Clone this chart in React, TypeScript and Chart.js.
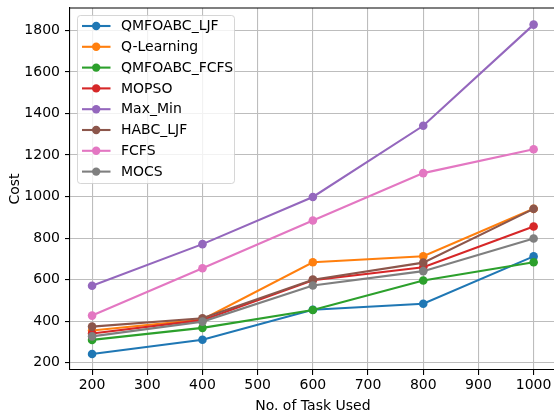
import React, { useEffect, useRef } from "react";
import { Chart, registerables } from "chart.js";

Chart.register(...registerables);

const TASKS = [200, 400, 600, 800, 1000];
const X_TICKS = [200, 300, 400, 500, 600, 700, 800, 900, 1000];
const Y_TICKS = [200, 400, 600, 800, 1000, 1200, 1400, 1600, 1800];

const SERIES_NAMES = ["QMFOABC_LJF", "Q-Learning", "QMFOABC_FCFS", "MOPSO", "Max_Min", "HABC_LJF", "FCFS", "MOCS"];
const SERIES_COLORS = ["#1f77b4", "#ff7f0e", "#2ca02c", "#d62728", "#9467bd", "#8c564b", "#e377c2", "#7f7f7f"];

const qmfoabcLjf = [242, 311, 455, 484, 712];
const qLearning = [355, 408, 684, 713, 941];
const qmfoabcFcfs = [310, 368, 454, 596, 684];
const mopso = [341, 405, 597, 660, 856];
const maxMin = [571, 771, 998, 1341, 1828];
const habcLjf = [374, 414, 600, 682, 941];
const fcfs = [427, 655, 885, 1113, 1228];
const mocs = [327, 398, 572, 641, 798];

const SERIES_VALUES = [qmfoabcLjf, qLearning, qmfoabcFcfs, mopso, maxMin, habcLjf, fcfs, mocs];

const FONT = "'DejaVu Sans', sans-serif";

const frameAndLegend = {
  id: "frameAndLegend",
  afterDatasetsDraw(chart: any) {
    const ctx = chart.ctx;
    const area = chart.chartArea;
    ctx.save();
    ctx.strokeStyle = "#000";
    ctx.lineWidth = 1.1;
    ctx.beginPath();
    ctx.moveTo(area.left, area.top);
    ctx.lineTo(area.right, area.top);
    ctx.moveTo(area.right, area.top);
    ctx.lineTo(area.right, area.bottom);
    ctx.stroke();

    const bx = 77.5, by = 15.5, bw = 157, bh = 168, r = 3;
    ctx.beginPath();
    ctx.moveTo(bx + r, by);
    ctx.lineTo(bx + bw - r, by);
    ctx.arcTo(bx + bw, by, bx + bw, by + r, r);
    ctx.lineTo(bx + bw, by + bh - r);
    ctx.arcTo(bx + bw, by + bh, bx + bw - r, by + bh, r);
    ctx.lineTo(bx + r, by + bh);
    ctx.arcTo(bx, by + bh, bx, by + bh - r, r);
    ctx.lineTo(bx, by + r);
    ctx.arcTo(bx, by, bx + r, by, r);
    ctx.closePath();
    ctx.fillStyle = "rgba(255,255,255,0.8)";
    ctx.fill();
    ctx.strokeStyle = "rgba(204,204,204,0.8)";
    ctx.lineWidth = 1;
    ctx.stroke();

    ctx.font = `14px ${FONT}`;
    ctx.textBaseline = "middle";
    ctx.textAlign = "left";
    chart.data.datasets.forEach((ds: any, i: number) => {
      const y = 26 + i * 20.8;
      ctx.strokeStyle = ds.borderColor;
      ctx.lineWidth = 2.1;
      ctx.beginPath();
      ctx.moveTo(82, y);
      ctx.lineTo(110.5, y);
      ctx.stroke();
      ctx.fillStyle = ds.borderColor;
      ctx.beginPath();
      ctx.arc(96.2, y, 4.2, 0, Math.PI * 2);
      ctx.fill();
      ctx.fillStyle = "#000";
      ctx.fillText(ds.label, 121, y + 0.5);
    });
    ctx.restore();
  },
};

export default function App() {
  const ref = useRef<HTMLCanvasElement | null>(null);
  useEffect(() => {
    if (!ref.current) return;
    const n = SERIES_NAMES.length;
    const chart = new Chart(ref.current, {
      type: "line",
      data: {
        datasets: SERIES_NAMES.map((name, i) => ({
          label: name,
          data: TASKS.map((t, j) => ({ x: t, y: SERIES_VALUES[i][j] })),
          borderColor: SERIES_COLORS[i],
          backgroundColor: SERIES_COLORS[i],
          pointBackgroundColor: SERIES_COLORS[i],
          pointBorderWidth: 0,
          pointRadius: 4.3,
          borderWidth: 2.1,
          tension: 0,
          order: n - i,
          clip: false as any,
        })),
      },
      options: {
        animation: false,
        responsive: false,
        devicePixelRatio: 1,
        layout: { padding: { top: 8, right: 0, left: 0, bottom: 0 } },
        plugins: { legend: { display: false }, tooltip: { enabled: false } },
        scales: {
          x: {
            type: "linear",
            min: 160,
            max: 1040,
            afterBuildTicks: (s: any) => {
              s.ticks = X_TICKS.map((v) => ({ value: v }));
            },
            afterFit: (s: any) => {
              s.height = 46;
              s.paddingLeft = 0;
              s.paddingRight = 0;
            },
            ticks: { color: "#000", font: { family: FONT, size: 14 }, padding: 2, maxRotation: 0, autoSkip: false, callback: (v: any) => String(v) },
            grid: { color: "#bdbdbd", lineWidth: 1.1, tickColor: "#000", tickLength: 5, tickWidth: 1.1 },
            border: { display: true, color: "#000", width: 1.1 },
            title: { display: true, text: "No. of Task Used", color: "#000", font: { family: FONT, size: 14 }, padding: { top: 0, bottom: 1 } },
          },
          y: {
            type: "linear",
            min: 165,
            max: 1908,
            afterBuildTicks: (s: any) => {
              s.ticks = Y_TICKS.map((v) => ({ value: v }));
            },
            afterFit: (s: any) => {
              s.width = 70;
              s.paddingTop = 0;
              s.paddingBottom = 0;
            },
            ticks: { color: "#000", font: { family: FONT, size: 14 }, padding: 5, autoSkip: false, callback: (v: any) => String(v) },
            grid: { color: "#bdbdbd", lineWidth: 1.1, tickColor: "#000", tickLength: 5, tickWidth: 1.1 },
            border: { display: true, color: "#000", width: 1.1 },
            title: { display: true, text: "Cost", color: "#000", font: { family: FONT, size: 14 }, padding: { top: 7, bottom: 0 } },
          },
        },
      },
      plugins: [frameAndLegend],
    });
    return () => chart.destroy();
  }, []);
  return (
    <div style={{ position: "absolute", left: 0, top: 0, width: 554, height: 416, overflow: "hidden", background: "#fff" }}>
      <canvas ref={ref} width={560} height={416} style={{ width: 560, height: 416, display: "block" }} />
    </div>
  );
}
